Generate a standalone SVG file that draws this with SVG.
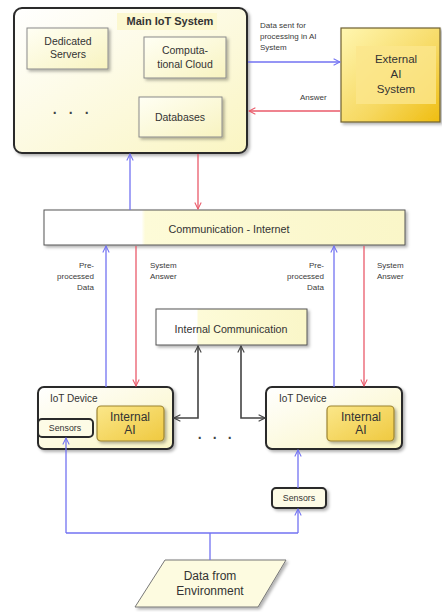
<svg xmlns="http://www.w3.org/2000/svg" width="442" height="612" viewBox="0 0 442 612">
  <defs>
    <linearGradient id="gMain" x1="0" y1="0" x2="1" y2="1">
      <stop offset="0" stop-color="#ffffff"/>
      <stop offset="1" stop-color="#faf5c2"/>
    </linearGradient>
    <linearGradient id="gBox" x1="0" y1="0" x2="1" y2="1">
      <stop offset="0" stop-color="#fffff4"/>
      <stop offset="1" stop-color="#f8f3c0"/>
    </linearGradient>
    <linearGradient id="gBar" x1="0" y1="0" x2="1" y2="0">
      <stop offset="0" stop-color="#ffffff"/>
      <stop offset="0.27" stop-color="#ffffff"/>
      <stop offset="0.28" stop-color="#fdfbd8"/>
      <stop offset="1" stop-color="#faf6c8"/>
    </linearGradient>
    <linearGradient id="gExt" x1="0" y1="0" x2="1" y2="1">
      <stop offset="0" stop-color="#fff6b0"/>
      <stop offset="0.6" stop-color="#f6d860"/>
      <stop offset="1" stop-color="#efbd10"/>
    </linearGradient>
    <linearGradient id="gAI" x1="0" y1="0" x2="1" y2="1">
      <stop offset="0" stop-color="#fbe78a"/>
      <stop offset="1" stop-color="#efc940"/>
    </linearGradient>
    <filter id="sh" x="-10%" y="-10%" width="130%" height="140%">
      <feDropShadow dx="2" dy="2" stdDeviation="1.5" flood-color="#000" flood-opacity="0.3"/>
    </filter>
    <marker id="aBlue" viewBox="0 0 10 10" refX="9" refY="5" markerWidth="8" markerHeight="8" orient="auto-start-reverse" markerUnits="userSpaceOnUse">
      <path d="M1,1 L9,5 L1,9" fill="none" stroke="#7272f2" stroke-width="1.3"/>
    </marker>
    <marker id="aRed" viewBox="0 0 10 10" refX="9" refY="5" markerWidth="8" markerHeight="8" orient="auto-start-reverse" markerUnits="userSpaceOnUse">
      <path d="M1,1 L9,5 L1,9" fill="none" stroke="#ea5a6a" stroke-width="1.3"/>
    </marker>
    <marker id="aDark" viewBox="0 0 10 10" refX="9" refY="5" markerWidth="8" markerHeight="8" orient="auto-start-reverse" markerUnits="userSpaceOnUse">
      <path d="M1,1 L9,5 L1,9" fill="none" stroke="#444" stroke-width="1.4"/>
    </marker>
  </defs>
  <style>
    text { font-family: "Liberation Sans", Arial, sans-serif; fill: #333; }
    .t { font-size: 10.5px; text-anchor: middle; }
    .s { font-size: 8px; fill: #3a3a3a; }
    .dots { font-size: 14px; font-weight: bold; text-anchor: middle; fill: #444; }
    .outer { fill: url(#gMain); stroke: #2a2a2a; stroke-width: 2; }
    .box { fill: url(#gBox); stroke: #8a8a8a; stroke-width: 1; }
    .ai { fill: url(#gAI); stroke: #9c8430; stroke-width: 1.2; }
    .sens { fill: #fdfbe6; stroke: #2a2a2a; stroke-width: 2; }
    .blue { stroke: #7272f2; stroke-width: 1.3; fill: none; }
    .red { stroke: #ea5a6a; stroke-width: 1.3; fill: none; }
    .dark { stroke: #444; stroke-width: 1.6; fill: none; }
  </style>
  <rect width="442" height="612" fill="#ffffff"/>

  <g id="main-iot-system">
    <rect class="outer" x="14" y="8" width="233" height="145" rx="8" filter="url(#sh)"/>
    <rect x="117" y="13" width="100" height="17" fill="#fcf8d0"/>
    <text x="170" y="25" style="font-size:11px;font-weight:bold;text-anchor:middle" fill="#222">Main IoT System</text>
    <g id="dedicated-servers">
      <rect class="box" x="27" y="28" width="81" height="41" filter="url(#sh)"/>
      <text class="t" x="68" y="45">Dedicated</text>
      <text class="t" x="68" y="58">Servers</text>
    </g>
    <g id="computational-cloud">
      <rect class="box" x="144" y="37" width="82" height="41" filter="url(#sh)"/>
      <text class="t" x="185" y="54">Computa-</text>
      <text class="t" x="185" y="68">tional Cloud</text>
    </g>
    <g id="databases">
      <rect class="box" x="139" y="97" width="83" height="40" filter="url(#sh)"/>
      <text class="t" x="180" y="121">Databases</text>
    </g>
    <text class="dots" y="118"><tspan x="55">·</tspan><tspan x="71">·</tspan><tspan x="87">·</tspan></text>
  </g>

  <g id="external-ai-system">
    <rect x="341" y="28" width="99" height="94" fill="url(#gExt)" stroke="#6e6030" stroke-width="1.2" filter="url(#sh)"/>
    <rect x="356" y="46" width="80" height="58" fill="#fbe68c" opacity="0.8"/>
    <text class="t" x="396" y="63" style="font-size:11.5px">External</text>
    <text class="t" x="396" y="78" style="font-size:11.5px">AI</text>
    <text class="t" x="396" y="93" style="font-size:11.5px">System</text>
  </g>

  <g id="communication-internet">
    <rect x="44" y="210" width="361" height="35" fill="url(#gBar)" stroke="#555" stroke-width="1" filter="url(#sh)"/>
    <text class="t" x="229" y="233" style="font-size:10.8px">Communication - Internet</text>
  </g>

  <g id="internal-communication">
    <rect x="156" y="309" width="151" height="36" fill="url(#gBar)" stroke="#555" stroke-width="1" filter="url(#sh)"/>
    <text class="t" x="231" y="333" style="font-size:10.7px">Internal Communication</text>
  </g>

  <g id="iot-device-left">
    <rect class="outer" x="38" y="387" width="135" height="62" rx="6" filter="url(#sh)"/>
    <text x="50" y="402" style="font-size:10px">IoT Device</text>
    <g id="internal-ai-left">
      <rect class="ai" x="97" y="406" width="67" height="35" rx="4" filter="url(#sh)"/>
      <text class="t" x="130" y="421" style="font-size:12px">Internal</text>
      <text class="t" x="130" y="434" style="font-size:12px">AI</text>
    </g>
    <g id="sensors-left">
      <rect class="sens" x="38" y="419" width="55" height="18" rx="4"/>
      <text class="t" x="65" y="431" style="font-size:8.8px">Sensors</text>
    </g>
  </g>

  <g id="iot-device-right">
    <rect class="outer" x="266" y="387" width="136" height="62" rx="6" filter="url(#sh)"/>
    <text x="279" y="402" style="font-size:10px">IoT Device</text>
    <g id="internal-ai-right">
      <rect class="ai" x="327" y="406" width="67" height="35" rx="4" filter="url(#sh)"/>
      <text class="t" x="361" y="421" style="font-size:12px">Internal</text>
      <text class="t" x="361" y="434" style="font-size:12px">AI</text>
    </g>
  </g>

  <text class="dots" y="443"><tspan x="200">·</tspan><tspan x="215">·</tspan><tspan x="230">·</tspan></text>

  <g id="sensors-right">
    <rect class="sens" x="272" y="488" width="54" height="20" rx="4" filter="url(#sh)"/>
    <text class="t" x="299" y="501" style="font-size:8.8px">Sensors</text>
  </g>

  <g id="data-from-environment">
    <polygon points="165,560 286,560 258,607 135,607" fill="#fdfbe0" stroke="#777" stroke-width="1" filter="url(#sh)"/>
    <text class="t" x="210" y="580" style="font-size:12px">Data from</text>
    <text class="t" x="210" y="595" style="font-size:12px">Environment</text>
  </g>

  <g id="connectors">
    <!-- main system <-> external AI -->
    <line class="blue" x1="248" y1="62" x2="340" y2="62" marker-end="url(#aBlue)"/>
    <line class="red" x1="340" y1="111" x2="249" y2="111" marker-end="url(#aRed)"/>
    <!-- main system <-> internet -->
    <line class="blue" x1="130" y1="210" x2="130" y2="154" marker-end="url(#aBlue)"/>
    <line class="red" x1="198" y1="154" x2="198" y2="209" marker-end="url(#aRed)"/>
    <!-- internet <-> devices -->
    <line class="blue" x1="106" y1="387" x2="106" y2="246" marker-end="url(#aBlue)"/>
    <line class="red" x1="136" y1="246" x2="136" y2="386" marker-end="url(#aRed)"/>
    <line class="blue" x1="334" y1="387" x2="334" y2="246" marker-end="url(#aBlue)"/>
    <line class="red" x1="364" y1="246" x2="364" y2="386" marker-end="url(#aRed)"/>
    <!-- internal communication links -->
    <polyline class="dark" points="198,346 198,418 174,418" marker-start="url(#aDark)" marker-end="url(#aDark)"/>
    <polyline class="dark" points="241,346 241,418 265,418" marker-start="url(#aDark)" marker-end="url(#aDark)"/>
    <!-- environment data to sensors -->
    <polyline class="blue" points="210,560 210,533"/>
    <polyline class="blue" points="66,533 298,533"/>
    <line class="blue" x1="66" y1="533" x2="66" y2="438" marker-end="url(#aBlue)"/>
    <line class="blue" x1="298" y1="533" x2="298" y2="509" marker-end="url(#aBlue)"/>
    <line class="blue" x1="298" y1="488" x2="298" y2="450" marker-end="url(#aBlue)"/>
  </g>

  <g id="labels">
    <text class="s" x="260" y="28">Data sent for</text>
    <text class="s" x="260" y="39">processing in AI</text>
    <text class="s" x="260" y="50">System</text>
    <text class="s" x="300" y="100">Answer</text>
    <text class="s" x="94" y="268" text-anchor="end">Pre-</text>
    <text class="s" x="94" y="279" text-anchor="end">processed</text>
    <text class="s" x="94" y="290" text-anchor="end">Data</text>
    <text class="s" x="150" y="268">System</text>
    <text class="s" x="150" y="279">Answer</text>
    <text class="s" x="324" y="268" text-anchor="end">Pre-</text>
    <text class="s" x="324" y="279" text-anchor="end">processed</text>
    <text class="s" x="324" y="290" text-anchor="end">Data</text>
    <text class="s" x="377" y="268">System</text>
    <text class="s" x="377" y="279">Answer</text>
  </g>
</svg>
